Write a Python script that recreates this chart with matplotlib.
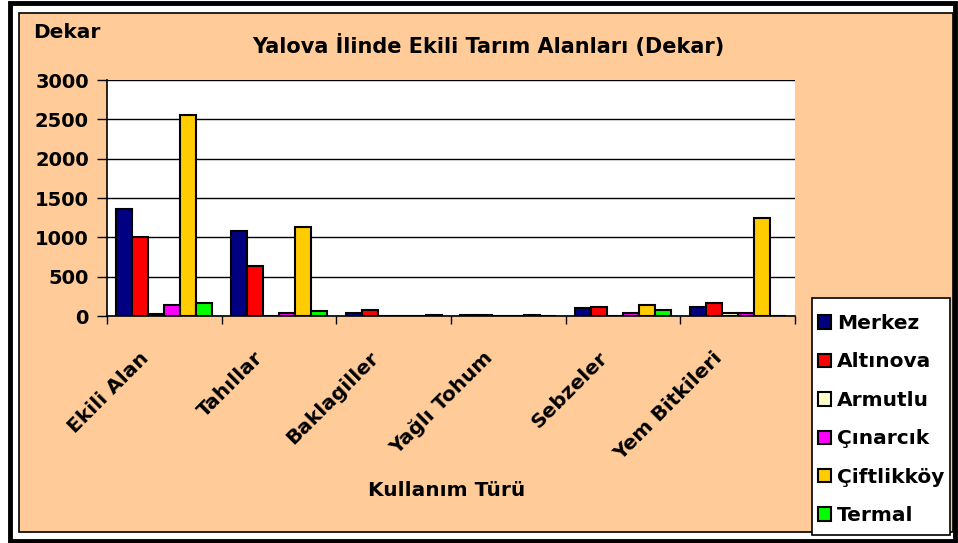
import numpy as np
import matplotlib.pyplot as plt
from matplotlib.patches import Rectangle

plt.rcParams['font.family'] = ['DejaVu Sans']
plt.rcParams['font.weight'] = 'bold'

categories = ["Ekili Alan", "Tahıllar", "Baklagiller", "Yağlı Tohum", "Sebzeler", "Yem Bitkileri"]
series_names = ["Merkez", "Altınova", "Armutlu", "Çınarcık", "Çiftlikköy", "Termal"]
merkez = [1360, 1080, 40, 15, 100, 120]
altinova = [1005, 635, 75, 15, 120, 165]
armutlu = [30, 0, 0, 0, 0, 40]
cinarcik = [140, 40, 0, 0, 40, 40]
ciftlikkoy = [2555, 1130, 0, 15, 145, 1245]
termal = [165, 65, 15, 0, 70, 0]
values = [merkez, altinova, armutlu, cinarcik, ciftlikkoy, termal]
colors = ["#000080", "#FF0000", "#FFFFCC", "#FF00FF", "#FFCC00", "#00FF00"]

W, H = 958, 543
fig = plt.figure(figsize=(W / 100, H / 100), dpi=100)
fig.patch.set_facecolor("white")

# outer frame and orange chart area
fig.patches.append(Rectangle((10 / W, 2 / H), 945 / W, 538 / H, transform=fig.transFigure,
                             fill=False, edgecolor="black", linewidth=3.5, zorder=-2))
fig.patches.append(Rectangle((19 / W, (H - 532) / H), 934 / W, 519 / H, transform=fig.transFigure,
                             facecolor="#FFCC99", edgecolor="black", linewidth=1.2, zorder=-1))
# legend box
fig.patches.append(Rectangle((812 / W, (H - 535) / H), 138 / W, 237 / H, transform=fig.transFigure,
                             facecolor="white", edgecolor="black", linewidth=1.2, zorder=1))

ax = fig.add_axes([107 / W, (H - 316) / H, 688 / W, 236 / H])
ax.set_facecolor("white")

x = np.arange(len(categories))
bw = 0.14
for i, (name, vals, c) in enumerate(zip(series_names, values, colors)):
    ax.bar(x + (i - 2.5) * bw, vals, bw, color=c, edgecolor="black", linewidth=1.5,
           label=name, zorder=3)

ax.set_ylim(0, 3000)
ax.set_xlim(-0.5, len(categories) - 0.5)
ax.set_yticks(np.arange(0, 3001, 500))
ax.yaxis.grid(True, color="black", linewidth=1, zorder=0)
ax.set_axisbelow(True)
ax.tick_params(axis="y", direction="out", length=7, width=1, labelsize=14, pad=6)
ax.set_xticks(np.arange(-0.5, len(categories), 1.0))
ax.set_xticklabels([])
ax.tick_params(axis="x", direction="out", length=6, width=1)
for s in ["top", "right"]:
    ax.spines[s].set_visible(False)
for s in ["left", "bottom"]:
    ax.spines[s].set_linewidth(1.2)

for xi, lab in zip(x, categories):
    ax.text(xi - 0.16, -0.165, lab, transform=ax.get_xaxis_transform(), rotation=45,
            rotation_mode="anchor", ha="right", va="center", fontsize=14.5, fontweight="bold")

fig.text(488 / W, 1 - 45 / H, "Yalova İlinde Ekili Tarım Alanları (Dekar)", ha="center",
         va="center", fontsize=15, fontweight="bold")
fig.text(33 / W, 1 - 33 / H, "Dekar", ha="left", va="center", fontsize=14.5, fontweight="bold")
fig.text(447 / W, 1 - 490 / H, "Kullanım Türü", ha="center", va="center", fontsize=14.5,
         fontweight="bold")

leg = fig.legend(loc="upper left", bbox_to_anchor=(812 / W, 1 - 308 / H), fontsize=14.5,
                 frameon=False, handlelength=0.65, handleheight=0.65, handletextpad=0.3,
                 labelspacing=0.965, borderpad=0.3, borderaxespad=0)
leg.set_zorder(2)

fig.savefig("out.png", dpi=100)
